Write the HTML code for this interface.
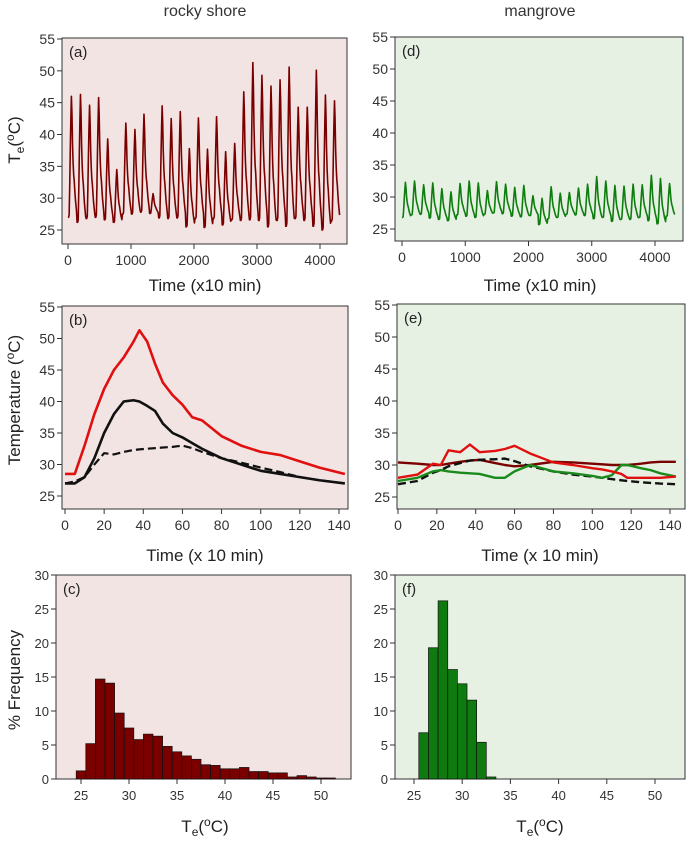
<!DOCTYPE html>
<html><head><meta charset="utf-8">
<style>
html,body{margin:0;padding:0;background:#fff;}
svg{display:block;font-family:"Liberation Sans",Arial,sans-serif;}
</style></head>
<body>
<svg id="fig" width="688" height="841" viewBox="0 0 688 841" xmlns="http://www.w3.org/2000/svg">
<text x="205" y="16" font-size="16" text-anchor="middle" fill="#333">rocky shore</text>
<text x="540" y="16" font-size="16" text-anchor="middle" fill="#333">mangrove</text>
</svg>
<script>
// ---- data ----
const dailyMaxA=[46,46.3,44.6,45.8,39.3,34.5,41.8,40.8,43.2,30.7,44.5,42.5,43.6,37.8,42.6,37.7,42.8,37.3,38.6,46.7,51.3,49.3,47.6,48.6,50.6,44.3,44.3,50.1,46.2,45.3];
const dailyMinA=[27,26.2,26.8,27,26.6,26.2,27.5,27.5,27.8,27.6,26.9,26.8,26.9,25.5,26.8,25.4,26.8,25.8,26.6,26.5,26.6,26.5,25.5,26.5,25.6,26.8,26.5,25.6,25,26.4];
const dailyMaxD=[32.3,32.5,31.9,32.2,31.3,30.8,32.1,32.5,32.2,31,32.4,32,31.5,31.8,30.2,29.8,31.6,30.6,30.7,31.4,32,33.2,32.5,31.8,31.7,32,31.9,33.4,32.9,32.1];
const dailyMinD=[26.8,27.2,27.3,26.7,26.5,26.3,27.2,27,26.8,27.3,27.5,27.4,27,26.9,27.1,25.7,26.6,26.8,27.3,27.2,27.1,26.6,26.8,26.2,26.5,26.5,26.8,26.3,25.8,27];
const timeB=[0,5,10,15,20,25,30,35,38,42,46,50,55,60,65,70,80,90,100,110,120,130,143];
const redB=[28.5,28.5,33,38,42,45,47,49.5,51.3,49.5,46,43,41,39.5,37.5,37,34.5,33,32,31.5,30.5,29.5,28.5];
const blackB=[27,27,28,31,35,38,40,40.2,40,39.3,38.5,36.5,35,34.3,33.4,32.5,31,30,29,28.5,28,27.5,27];
const dashB=[27,27.3,28,30,31.8,31.6,32,32.3,32.4,32.5,32.6,32.7,32.8,33,32.6,32,31,30.3,29.5,28.8,28,27.5,27];
const timeE=[0,10,18,22,26,32,37,42,50,55,60,68,80,90,100,105,110,115,118,125,130,135,143];
const darkredE=[30.4,30.2,30,30,30.2,30.5,30.7,30.8,30.3,30,29.8,30,30.5,30.4,30.2,30.1,30,30,30,30.2,30.4,30.5,30.5];
const redE=[28,28.5,30.2,30,32.3,32,33.2,32,32.2,32.5,33,31.8,30.4,30,29.5,29.3,29,28.6,28,28,28,28,28.2];
const greenE=[27.5,28,29,29.2,29,28.8,28.7,28.6,28,28,29,30,29,28.7,28.3,28,28.4,30,30,29.5,29.2,28.7,28.2];
const dashE=[27,27.5,28.8,29.2,29.8,30.3,30.7,30.8,30.9,31,30.6,29.8,29,28.5,28.2,28,27.8,27.6,27.5,27.3,27.2,27.1,27];
const binsC=[25,26,27,28,29,30,31,32,33,34,35,36,37,38,39,40,41,42,43,44,45,46,47,48,49,50,51];
const freqC=[1.2,5.2,14.7,14.1,9.7,7.5,5.8,6.6,6.3,4.8,4.0,3.4,2.9,2.1,2.0,1.5,1.5,1.7,1.1,1.1,0.9,0.9,0.3,0.5,0.3,0.15,0.15];
const binsF=[26,27,28,29,30,31,32,33];
const freqF=[6.8,19.3,26.2,16.1,14.0,11.6,5.4,0.3];
const ticksTime=[0,1000,2000,3000,4000];
const ticksB=[0,20,40,60,80,100,120,140];
const ticksTemp=[25,30,35,40,45,50,55];
const ticksFreq=[0,5,10,15,20,25,30];
const ticksTe=[25,30,35,40,45,50];
// daily shape template (fraction of daily range), from panel b profile
const profile=[0,0,0.02,0.25,0.55,0.8,1,0.85,0.6,0.45,0.35,0.3,0.22,0.15,0.1,0.05];

const NS="http://www.w3.org/2000/svg";
const svg=document.getElementById('fig');
function el(tag,attrs,parent){const e=document.createElementNS(NS,tag);for(const k in attrs)e.setAttribute(k,attrs[k]);(parent||svg).appendChild(e);return e;}
function lin(d0,d1,r0,r1){return v=>r0+(v-d0)*(r1-r0)/(d1-d0);}

function panel(p){
  const g=el('g',{});
  
  
  const bg=el('rect',{x:p.l,y:p.t,width:p.r-p.l,height:p.b-p.t,fill:p.bg,stroke:'#333','stroke-width':1},g);
  
  
  const xs=lin(p.x0,p.x1,p.px0,p.px1), ys=lin(p.y0,p.y1,p.py0,p.py1);
  p.yt.forEach(v=>{const y=ys(v);
    el('line',{x1:p.l-5,x2:p.l,y1:y,y2:y,stroke:'#333'},g);
    const t=el('text',{x:p.l-7,y:y+5,'font-size':p.fs||14,'text-anchor':'end',fill:'#333'},g);t.textContent=v;
    
    });
  p.xt.forEach(v=>{const x=xs(v);
    el('line',{x1:x,x2:x,y1:p.b,y2:p.b+5,stroke:'#333'},g);
    const t=el('text',{x:x,y:p.b+21,'font-size':p.fs||14,'text-anchor':'middle',fill:'#333'},g);t.textContent=v;
    
    });
  const lb=el('text',{x:p.l+7,y:p.t+19,'font-size':15,fill:'#222'},g);lb.textContent=p.label;
  
  
  return {g,xs,ys};
}
function line(g,xs,ys,X,Y,color,w,dash,name){
  const d=X.map((x,i)=>(i?'L':'M')+xs(x).toFixed(2)+','+ys(Y[i]).toFixed(2)).join('');
  const p=el('path',{d,fill:'none',stroke:color,'stroke-width':w,'stroke-dasharray':dash||'none','stroke-linejoin':'round'},g);
  
  
}
function daily(mx,mn){const X=[],Y=[];mx.forEach((m,d)=>{profile.forEach((f,k)=>{X.push(d*144+k*144/profile.length);Y.push(mn[d]+(m-mn[d])*f);});});return {X,Y};}
function xtitle(x,y,txt,name){const t=el('text',{x,y,'font-size':17,'text-anchor':'middle',fill:'#222'});t.textContent=txt;
  }
function teTitle(x,y,rot,name){const t=el('text',{x,y,'font-size':17,'text-anchor':'middle',fill:'#222',transform:rot?`rotate(-90 ${x} ${y})`:''});
  t.innerHTML='T<tspan font-size="12" dy="4">e</tspan><tspan dy="-4">(</tspan><tspan font-size="12" dy="-6">o</tspan><tspan dy="6">C)</tspan>';
  }

const PINK='#f3e4e4', GREEN='#e6f1e4', DR='#7a0000', GR='#0d7d0d';
// (a)
let P=panel({name:'panel-a',l:62,t:38,r:347,b:244,bg:PINK,x0:0,x1:4000,px0:68,px1:320,y0:25,y1:55,py0:230,py1:39,xt:ticksTime,yt:[25,30,35,40,45,50,55],label:'(a)'});
let s=daily(dailyMaxA,dailyMinA);line(P.g,P.xs,P.ys,s.X,s.Y,DR,1.6,null,'rocky-te-series');
// (d)
P=panel({name:'panel-d',l:395,t:37,r:683,b:241,bg:GREEN,x0:0,x1:4000,px0:402,px1:655,y0:25,y1:55,py0:229,py1:37,xt:ticksTime,yt:ticksTemp,label:'(d)'});
s=daily(dailyMaxD,dailyMinD);line(P.g,P.xs,P.ys,s.X,s.Y,GR,1.6,null,'mangrove-te-series');
xtitle(205,291,'Time (x10 min)','x-axis-title-a');xtitle(540,291,'Time (x10 min)','x-axis-title-d');
teTitle(20,140,true,'y-axis-title-a');
// (b)
P=panel({name:'panel-b',l:62,t:306,r:348,b:509,bg:PINK,x0:0,x1:140,px0:65,px1:339,y0:25,y1:55,py0:496,py1:307,xt:ticksB,yt:ticksTemp,label:'(b)'});
line(P.g,P.xs,P.ys,timeB,dashB,'#111',2.2,'8 4','rocky-dashed-line');
line(P.g,P.xs,P.ys,timeB,blackB,'#111',2.6,null,'rocky-black-line');
line(P.g,P.xs,P.ys,timeB,redB,'#e01010',2.6,null,'rocky-red-line');
// (e)
P=panel({name:'panel-e',l:397,t:304,r:685,b:509,bg:GREEN,x0:0,x1:140,px0:398,px1:670,y0:25,y1:55,py0:497,py1:305,xt:ticksB,yt:ticksTemp,label:'(e)'});
line(P.g,P.xs,P.ys,timeE,darkredE,DR,2.4,null,'mangrove-darkred-line');
line(P.g,P.xs,P.ys,timeE,dashE,'#111',2.4,'8 4','mangrove-dashed-line');
line(P.g,P.xs,P.ys,timeE,greenE,'#1a8a1a',2.4,null,'mangrove-green-line');
line(P.g,P.xs,P.ys,timeE,redE,'#e01010',2.4,null,'mangrove-red-line');
xtitle(205,561,'Time (x 10 min)','x-axis-title-b');xtitle(540,561,'Time (x 10 min)','x-axis-title-e');
const yt=el('text',{x:20,y:400,'font-size':17,'text-anchor':'middle',fill:'#222',transform:'rotate(-90 20 400)'});
yt.innerHTML='Temperature (<tspan font-size="12" dy="-6">o</tspan><tspan dy="6">C)</tspan>';

// histograms
function hist(p,bins,freq,color,name){
  const Q=panel(p);
  bins.forEach((b,i)=>{const x0=Q.xs(b-0.5),x1=Q.xs(b+0.5),y=Q.ys(freq[i]);
    const r=el('rect',{x:x0,y:y,width:x1-x0,height:Q.ys(0)-y,fill:color,stroke:'#111','stroke-width':0.7},Q.g);
    
    });
}
hist({name:'panel-c',l:56,t:575,r:351,b:779,bg:PINK,x0:25,x1:50,px0:81,px1:321,y0:0,y1:30,py0:779,py1:575,xt:ticksTe,yt:ticksFreq,label:'(c)',fs:13},binsC,freqC,'#7a0000','rocky-hist');
hist({name:'panel-f',l:395,t:575,r:685,b:779,bg:GREEN,x0:25,x1:50,px0:414,px1:655,y0:0,y1:30,py0:779,py1:575,xt:ticksTe,yt:ticksFreq,label:'(f)',fs:13},binsF,freqF,'#0f7a0f','mangrove-hist');
teTitle(205,832,false,'x-axis-title-c');teTitle(540,832,false,'x-axis-title-f');
const ft=el('text',{x:20,y:680,'font-size':17,'text-anchor':'middle',fill:'#222',transform:'rotate(-90 20 680)'});
ft.textContent='% Frequency';

</script>
</body></html>
